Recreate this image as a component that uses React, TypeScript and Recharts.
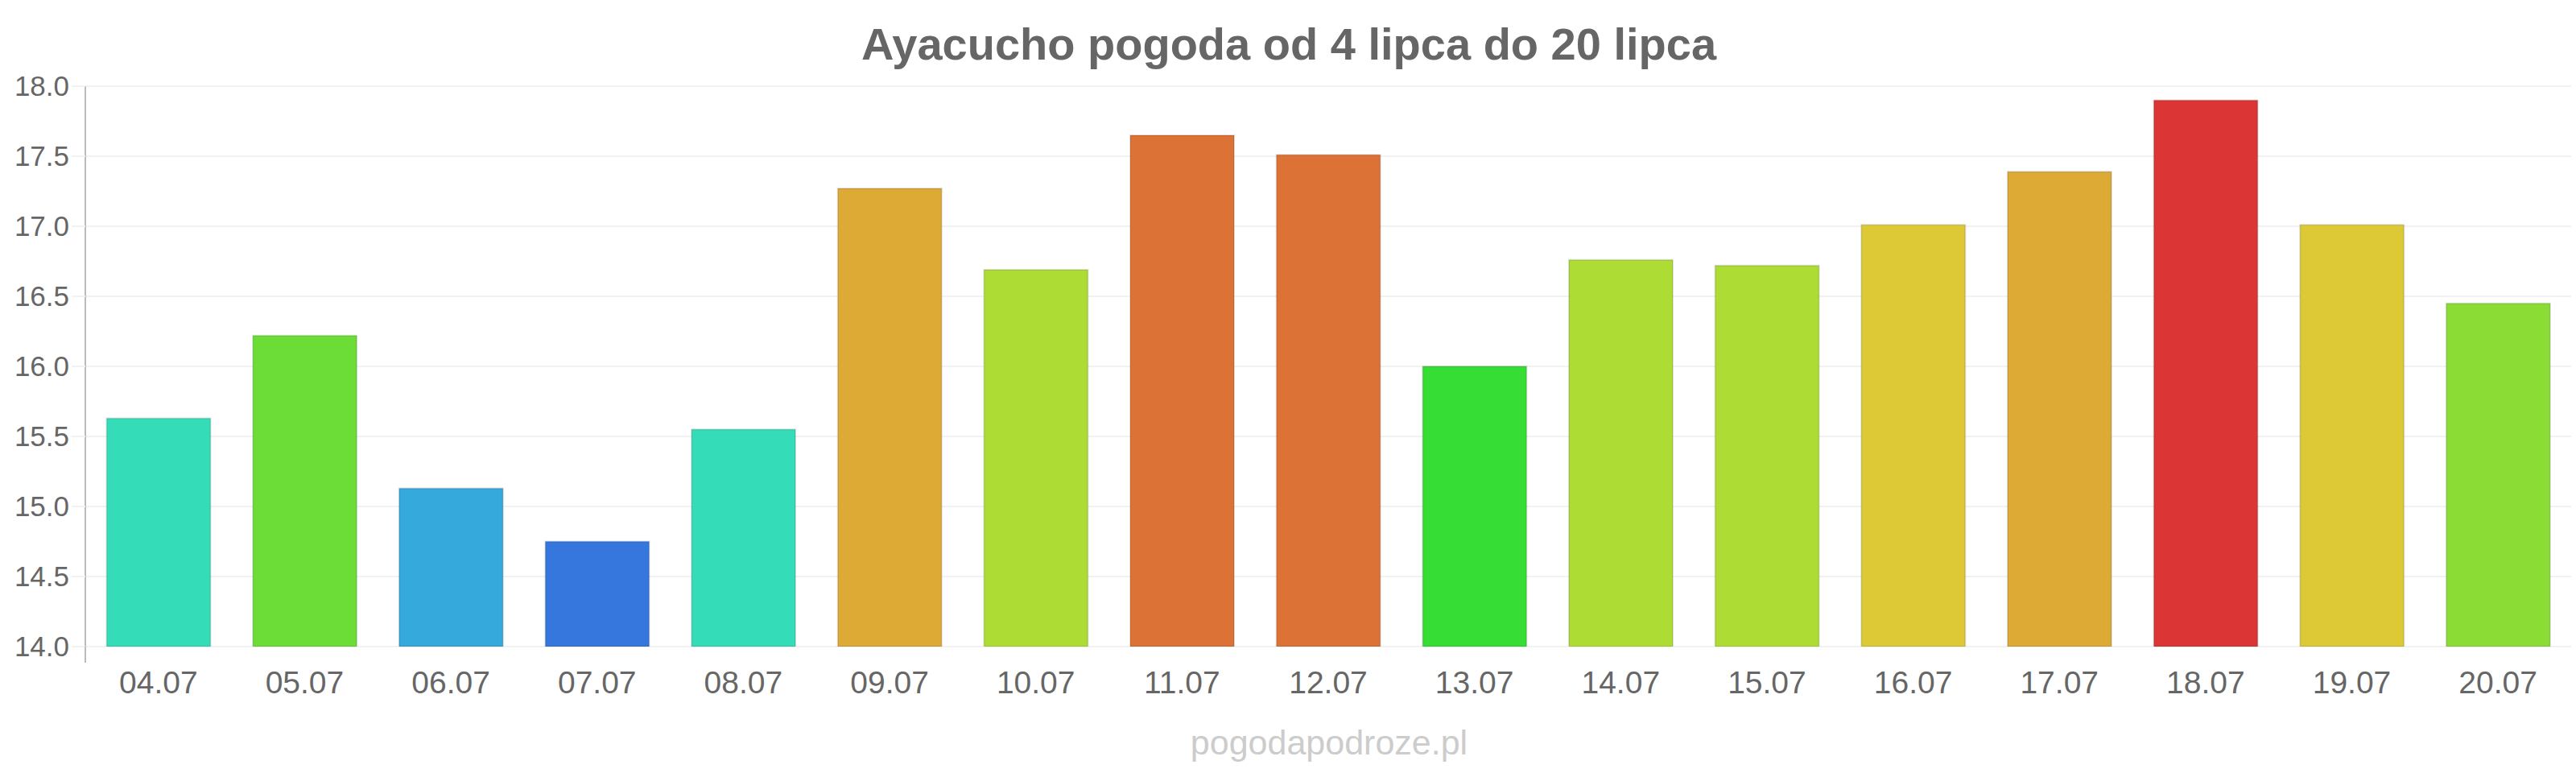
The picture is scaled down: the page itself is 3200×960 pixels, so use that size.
import React from 'react';
import { BarChart, Bar, Cell, XAxis, YAxis, CartesianGrid } from 'recharts';

const days = ['04.07', '05.07', '06.07', '07.07', '08.07', '09.07', '10.07', '11.07', '12.07', '13.07', '14.07', '15.07', '16.07', '17.07', '18.07', '19.07', '20.07'];
const temps = [15.63, 16.22, 15.13, 14.75, 15.55, 17.27, 16.69, 17.65, 17.51, 16.0, 16.76, 16.72, 17.01, 17.39, 17.9, 17.01, 16.45];
const colors = ['#35dcb8', '#6bdd36', '#35a8dc', '#3577dc', '#35dcb8', '#dcaa35', '#addd35', '#dd7236', '#dd7236', '#35dd35', '#addd35', '#addd35', '#dcc935', '#dcaa35', '#dc3535', '#dcc935', '#8bdd35'];
const yTicks = [14, 14.5, 15, 15.5, 16, 16.5, 17, 17.5, 18];

const data = days.map((d, i) => ({ day: d, temp: temps[i] }));

export default function App() {
    return (
        <div style={{ position: 'relative', width: 3200, height: 960, background: '#fff', fontFamily: '"Liberation Sans", Arial, sans-serif' }}>
            <style>{`body{margin:0}`}</style>
            <BarChart
                width={3200}
                height={960}
                data={data}
                margin={{ top: 107, right: 6, left: 0, bottom: 0 }}
                barCategoryGap="14.6%"
            >
                <text x={1601} y={74} textAnchor="middle" fontSize={56} fontWeight="bold" fill="#666">
                    Ayacucho pogoda od 4 lipca do 20 lipca
                </text>
                <text x={1651} y={937} textAnchor="middle" fontSize={43} fill="#ccc">
                    pogodapodroze.pl
                </text>
                <CartesianGrid vertical={false} stroke="#f2f2f2" strokeWidth={2} />
                <XAxis
                    dataKey="day"
                    height={157}
                    axisLine={false}
                    tickLine={false}
                    tickSize={0}
                    tickMargin={30}
                    interval={0}
                    tick={{ fontSize: 39, fill: '#666' }}
                />
                <YAxis
                    width={106}
                    domain={[14, 18]}
                    ticks={yTicks}
                    allowDataOverflow
                    tickFormatter={(v: number) => v.toFixed(1)}
                    axisLine={{ stroke: '#bbb', strokeWidth: 2 }}
                    tickLine={{ stroke: '#f2f2f2', strokeWidth: 2 }}
                    tickSize={17}
                    tickMargin={3}
                    tick={{ fontSize: 35, fill: '#666' }}
                />
                <Bar dataKey="temp" isAnimationActive={false} strokeWidth={2}>
                    {data.map((entry, index) => (
                        <Cell key={`cell-${index}`} fill={colors[index]} stroke="rgba(0,0,0,0.12)" />
                    ))}
                </Bar>
            </BarChart>
            <div style={{ position: 'absolute', left: 105, top: 803, width: 2, height: 20, background: '#bbb' }} />
        </div>
    );
}
